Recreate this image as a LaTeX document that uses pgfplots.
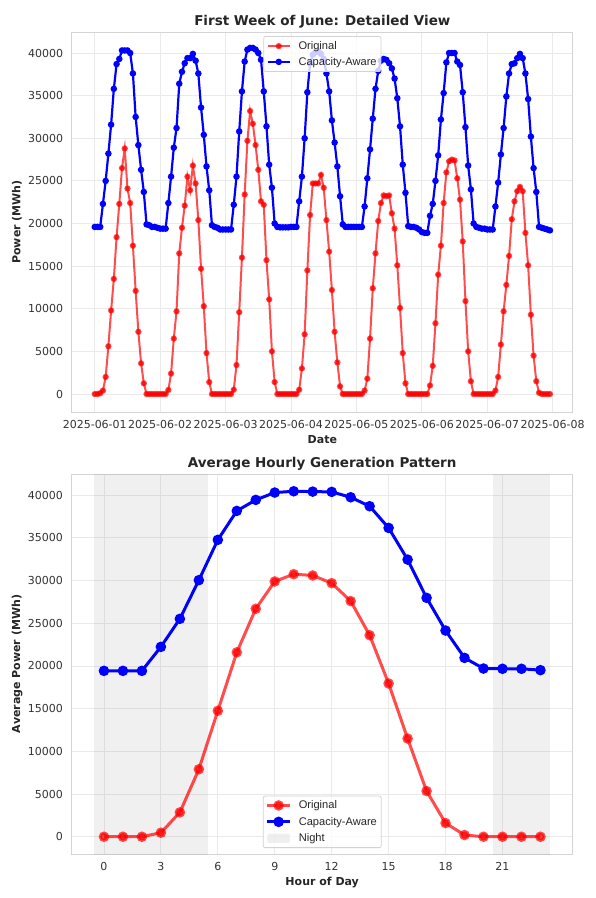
\documentclass[border=0pt]{standalone}
\usepackage{fontspec}
\setmainfont{DejaVu Sans}
\newfontfamily\legfont{Liberation Sans}
\usepackage{pgfplots}
\usepackage{pgfplotstable}
\pgfplotsset{compat=1.18}
\definecolor{gridc}{RGB}{234,234,234}
\definecolor{spine}{RGB}{212,212,212}
\definecolor{txt}{RGB}{38,38,38}
\definecolor{tick}{RGB}{51,51,51}
\definecolor{legframe}{RGB}{210,210,210}

\pgfplotstableread[row sep=\\]{
h o c\\
0 0 19600\\ 1 0 19600\\ 2 100 19600\\ 3 400 22300\\ 4 2000 25000\\ 5 5600 28200\\ 6 9800 31600\\ 7 13500 35800\\ 8 18400 38700\\ 9 22300 39300\\ 10 26500 40300\\ 11 28800 40300\\ 12 24100 40300\\ 13 22400 40000\\ 14 17400 37600\\ 15 12100 32500\\ 16 7300 29200\\ 17 3600 26300\\ 18 1250 23700\\ 19 0 19900\\ 20 0 19800\\ 21 0 19600\\ 22 0 19600\\ 23 0 19500\\
24 0 19400\\ 25 0 19400\\ 26 0 19400\\ 27 470 22400\\ 28 2400 25500\\ 29 6500 28900\\ 30 9700 31200\\ 31 16500 36400\\ 32 19500 37800\\ 33 22100 38800\\ 34 25500 39400\\ 35 23900 39400\\ 36 26800 39900\\ 37 24700 39100\\ 38 20400 37600\\ 39 14700 33600\\ 40 10300 30400\\ 41 4800 26700\\ 42 1400 23900\\ 43 0 19800\\ 44 0 19600\\ 45 0 19500\\ 46 0 19300\\ 47 0 19300\\
48 0 19300\\ 49 0 19300\\ 50 0 19300\\ 51 500 22200\\ 52 3400 25500\\ 53 9600 30800\\ 54 16000 35500\\ 55 23400 39000\\ 56 29700 40400\\ 57 33200 40600\\ 58 31700 40600\\ 59 29200 40400\\ 60 26300 40000\\ 61 22600 39200\\ 62 22200 35500\\ 63 15700 31400\\ 64 11100 26900\\ 65 5000 24200\\ 66 1400 20000\\ 67 0 19600\\ 68 0 19550\\ 69 0 19550\\ 70 0 19550\\ 71 0 19550\\
72 0 19600\\ 73 0 19600\\ 74 0 19600\\ 75 500 22600\\ 76 3000 25500\\ 77 7000 30000\\ 78 14500 35400\\ 79 21000 38800\\ 80 24700 39800\\ 81 24700 40100\\ 82 24700 40200\\ 83 25700 39900\\ 84 24200 39300\\ 85 20400 37600\\ 86 16700 35500\\ 87 12200 32100\\ 88 7300 29500\\ 89 3700 26700\\ 90 900 23200\\ 91 0 19900\\ 92 0 19600\\ 93 0 19600\\ 94 0 19600\\ 95 0 19600\\
96 0 19600\\ 97 0 19600\\ 98 0 19600\\ 99 400 22000\\ 100 1800 25300\\ 101 6500 28700\\ 102 12400 32300\\ 103 16500 35800\\ 104 20300 37900\\ 105 22400 39100\\ 106 23300 39300\\ 107 23200 39200\\ 108 23300 38800\\ 109 21200 38200\\ 110 19400 37000\\ 111 15100 34700\\ 112 10100 31400\\ 113 4800 26900\\ 114 1250 23600\\ 115 0 19700\\ 116 0 19600\\ 117 0 19600\\ 118 0 19500\\ 119 0 19300\\
120 0 19000\\ 121 0 18900\\ 122 0 18900\\ 123 1000 20900\\ 124 3300 22300\\ 125 8300 25000\\ 126 14000 28000\\ 127 17400 32200\\ 128 22400 35300\\ 129 26000 38900\\ 130 27300 40000\\ 131 27500 40000\\ 132 27400 40000\\ 133 25300 39000\\ 134 22800 38600\\ 135 17900 35400\\ 136 10900 31300\\ 137 5000 26800\\ 138 1500 24000\\ 139 0 20000\\ 140 0 19600\\ 141 0 19500\\ 142 0 19400\\ 143 0 19400\\
144 0 19300\\ 145 0 19300\\ 146 0 19300\\ 147 400 22000\\ 148 2000 24800\\ 149 5800 28100\\ 150 9700 31200\\ 151 12800 34900\\ 152 16200 37600\\ 153 20500 38700\\ 154 22600 38800\\ 155 23800 39400\\ 156 24300 39900\\ 157 23800 39400\\ 158 18900 37600\\ 159 15100 34600\\ 160 9300 30200\\ 161 4500 26500\\ 162 1500 23700\\ 163 150 19600\\ 164 0 19500\\ 165 0 19400\\ 166 0 19300\\ 167 0 19200\\
}\weektable

\pgfplotstableread[row sep=\\]{
h o c\\
0 0 19430\\ 1 0 19430\\ 2 0 19430\\ 3 470 22240\\ 4 2850 25520\\ 5 7900 30050\\ 6 14750 34770\\ 7 21600 38160\\ 8 26700 39450\\ 9 29900 40310\\ 10 30750 40460\\ 11 30600 40420\\ 12 29700 40390\\ 13 27600 39760\\ 14 23600 38710\\ 15 17950 36170\\ 16 11500 32460\\ 17 5350 27980\\ 18 1600 24150\\ 19 200 20950\\ 20 0 19700\\ 21 0 19670\\ 22 0 19670\\ 23 0 19510\\
}\hourtable

\pgfplotsset{
  mystyle/.style={
    scale only axis,
    axis line style={draw=spine, line width=1pt},
    grid=major,
    major grid style={draw=gridc, line width=0.8pt},
    major tick length=0pt,
    tick label style={font=\fontsize{11}{13}\selectfont, text=tick},
    /pgf/number format/assume math mode=true,
    /pgf/number format/1000 sep={},
    scaled y ticks=false,
    xticklabel style={anchor=base, yshift=-16pt},
    yticklabel style={anchor=east, inner sep=0pt, xshift=-8.7pt},
    title style={font=\bfseries\fontsize{13.5}{16}\selectfont, text=txt, at={(0.5,1)}, anchor=south, inner sep=0pt, text depth=0pt, yshift=0.5pt},
    label style={font=\bfseries\fontsize{11}{13}\selectfont, text=txt},
    xlabel style={at={(axis description cs:0.5,0)}, anchor=base, yshift=-31pt},
    ylabel style={at={(axis description cs:-0.103,0.5)}, anchor=base},
    legend cell align=left,
    legend image code/.code={\draw[mark repeat=2,mark phase=2] plot coordinates {(0pt,0pt) (11.15pt,0pt) (22.3pt,0pt)};},
  },
  mylegend/.style={
    legend style={draw=legframe, line width=0.8pt, rounded corners=2pt, fill=white, fill opacity=0.8, draw opacity=1, text opacity=1,
      inner xsep=2.8pt, column sep=6pt, font=\legfont\fontsize{11.1}{13}\selectfont, nodes={inner sep=1.5pt, text=txt}},
  },
}

\begin{document}
\begin{tikzpicture}
\useasboundingbox (0pt,0pt) rectangle (596pt,-898pt);

\begin{axis}[mystyle, mylegend,
  at={(72pt,-412pt)}, anchor=south west, width=500.7pt, height=380pt,
  xmin=-8.35, xmax=175.35, ymin=-2110, ymax=42465,
  xtick={0,24,48,72,96,120,144,168},
  xticklabels={2025-06-01,2025-06-02,2025-06-03,2025-06-04,2025-06-05,2025-06-06,2025-06-07,2025-06-08},
  ytick={0,5000,10000,15000,20000,25000,30000,35000,40000},
  title={First Week of June: Detailed View},
  xlabel={Date}, ylabel={Power (MWh)},
  legend style={at={(0.5,1)}, anchor=north, yshift=-4pt, inner ysep=3.45pt, row sep=3.2pt},
]
\addplot[color=red, opacity=0.7, line width=2pt, mark=*, mark size=2.1pt] table[x=h, y=o] {\weektable};
\addlegendentry{Original}
\addplot[color=blue, opacity=1, line width=2.2pt, mark=*, mark size=2.1pt] table[x=h, y=c] {\weektable};
\addlegendentry{Capacity-Aware}
\end{axis}

\begin{axis}[mystyle, mylegend,
  at={(71.7pt,-854pt)}, anchor=south west, width=501pt, height=380pt,
  xmin=-1.7, xmax=24.7, ymin=-2023, ymax=42483,
  xtick={0,3,6,9,12,15,18,21},
  ytick={0,5000,10000,15000,20000,25000,30000,35000,40000},
  title={Average Hourly Generation Pattern},
  xlabel={Hour of Day}, ylabel={Average Power (MWh)},
  legend style={at={(0.5,0)}, anchor=south, yshift=6pt, inner ysep=3.1pt, row sep=3.85pt},
]
\addplot[fill=gray, fill opacity=0.12, draw=none, forget plot] coordinates {(-0.5,-5000) (5.5,-5000) (5.5,50000) (-0.5,50000)} -- cycle;
\addplot[fill=gray, fill opacity=0.12, draw=none, forget plot] coordinates {(20.5,-5000) (23.5,-5000) (23.5,50000) (20.5,50000)} -- cycle;
\addplot[color=red, opacity=0.7, line width=3pt, mark=*, mark size=3.7pt] table[x=h, y=o] {\hourtable};
\addlegendentry{Original}
\addplot[color=blue, opacity=1, line width=3pt, mark=*, mark size=3.7pt] table[x=h, y=c] {\hourtable};
\addlegendentry{Capacity-Aware}
\addlegendimage{fill=gray, fill opacity=0.12, draw=none, legend image code/.code={\fill (0pt,-4.7pt) rectangle (22.3pt,4.7pt);}}
\addlegendentry{Night}
\end{axis}
\end{tikzpicture}
\end{document}
